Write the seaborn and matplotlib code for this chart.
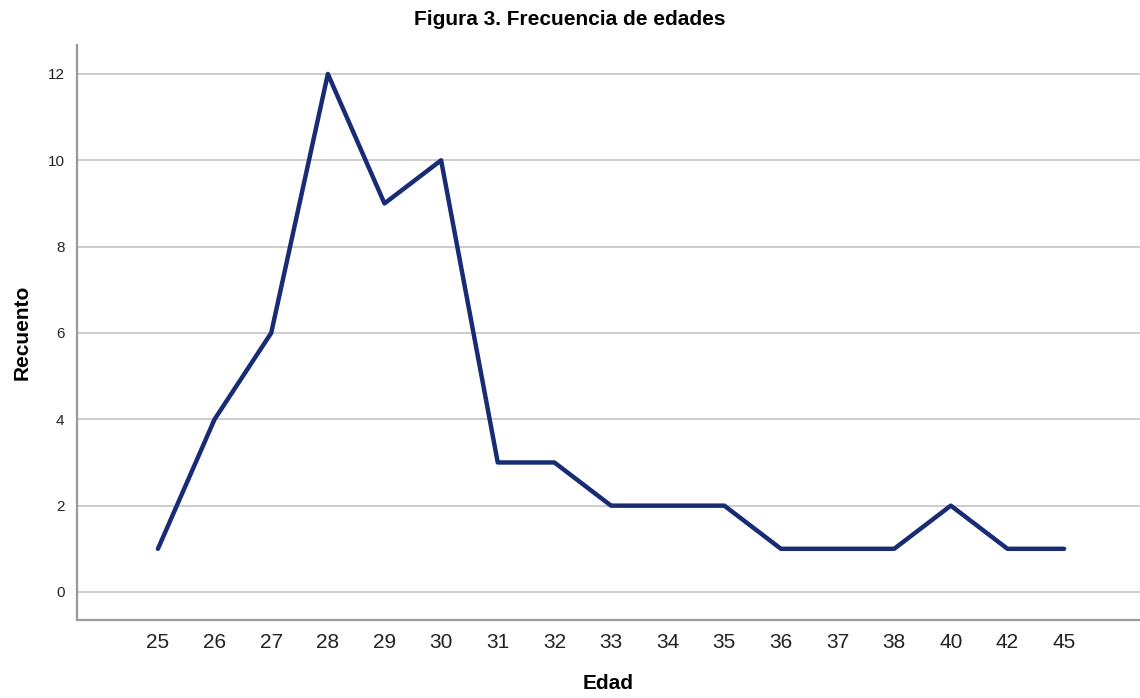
import matplotlib
matplotlib.use("Agg")
import matplotlib.pyplot as plt
import seaborn as sns
import pandas as pd

edades = ["25", "26", "27", "28", "29", "30", "31", "32", "33", "34", "35",
          "36", "37", "38", "40", "42", "45"]
recuento = [1, 4, 6, 12, 9, 10, 3, 3, 2, 2, 2, 1, 1, 1, 2, 1, 1]
yticks = [0, 2, 4, 6, 8, 10, 12]

sns.set_theme(style="white")
plt.rcParams['font.family'] = ['Liberation Sans', 'DejaVu Sans']
plt.rcParams['text.color'] = 'black'
plt.rcParams['axes.labelcolor'] = 'black'

df = pd.DataFrame({"Edad": edades, "Recuento": recuento})

fig = plt.figure(figsize=(11.4, 6.98), dpi=100)
ax = fig.add_axes([0.0675, 0.1117, 0.9325, 0.8238])

for t in yticks:
    ax.axhline(t, color="#c8c8c8", lw=1.3, zorder=0)

sns.lineplot(data=df, x="Edad", y="Recuento", sort=False, color="#172c74",
             lw=3.2, ax=ax)

ax.set_xlim(-1.43, 17.34)
ax.set_ylim(-0.65, 12.67)
ax.set_yticks(yticks)
ax.set_yticklabels([str(t) for t in yticks], fontsize=11)
ax.tick_params(axis="x", labelsize=15, length=0, pad=9, colors="#222222")
ax.tick_params(axis="y", length=0, pad=9, colors="#222222")

for s in ["top", "right"]:
    ax.spines[s].set_visible(False)
for s in ["left", "bottom"]:
    ax.spines[s].set_color("#9a9a9a")
    ax.spines[s].set_linewidth(1.6)

ax.set_xlabel("Edad", fontsize=15, fontweight="bold")
ax.xaxis.set_label_coords(0.5, -0.093)
ax.set_ylabel("Recuento", fontsize=15, fontweight="bold")
ax.yaxis.set_label_coords(-0.043, 0.5)
fig.text(0.5, 0.972, "Figura 3. Frecuencia de edades", ha="center", va="center",
         fontsize=15, fontweight="bold")

fig.savefig("out.png", dpi=100)
